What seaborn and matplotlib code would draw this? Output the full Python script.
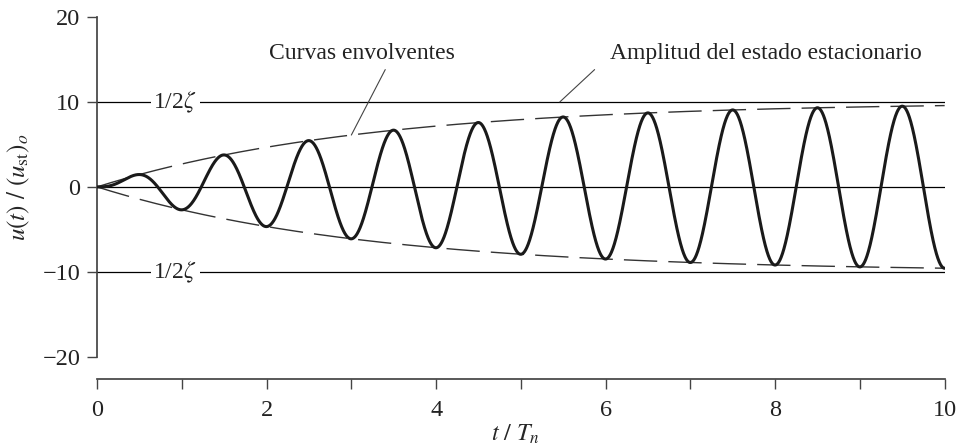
import numpy as np
import pandas as pd
import matplotlib
matplotlib.use("Agg")
import matplotlib.pyplot as plt
import seaborn as sns

# ---- values ----
zeta = 0.05                       # damping ratio (1/2zeta = 10)
t_max = 10                        # t / Tn range
x_ticks = [0, 1, 2, 3, 4, 5, 6, 7, 8, 9, 10]
x_tick_labels = ["0", "", "2", "", "4", "", "6", "", "8", "", "10"]
y_ticks = [-20, -10, 0, 10, 20]
y_tick_labels = ["\u221220", "\u221210", "0", "10", "20"]
ref_levels = [10, 0, -10]
label_half = "1/2$\\zeta$"
txt_env = "Curvas envolventes"
txt_amp = "Amplitud del estado estacionario"

# ---- resonant response (sinusoidal force at w = wn) ----
t = np.linspace(0, t_max, 3001)
wn = 2 * np.pi
wd = wn * np.sqrt(1 - zeta ** 2)
decay = np.exp(-zeta * wn * t)
u = (1 / (2 * zeta)) * (decay * (np.cos(wd * t) + zeta / np.sqrt(1 - zeta ** 2) * np.sin(wd * t)) - np.cos(wn * t))
env = (1 / (2 * zeta)) * (1 - decay)
df = pd.DataFrame({"t": t, "u": u, "env_up": env, "env_dn": -env})

sns.set_theme(style="ticks")
plt.rcParams["font.family"] = ["Liberation Serif", "DejaVu Serif"]
plt.rcParams["mathtext.fontset"] = "stix"

fig = plt.figure(figsize=(9.61, 4.45), dpi=100)
ax = fig.add_axes([0.101, 0.198, 0.882, 0.764])

for lv in ref_levels:
    ax.axhline(lv, color="black", lw=0.9, zorder=1)

sns.lineplot(data=df, x="t", y="env_up", ax=ax, color="#333333", lw=1.0,
             estimator=None, zorder=2)
sns.lineplot(data=df, x="t", y="env_dn", ax=ax, color="#333333", lw=1.0,
             estimator=None, zorder=2)
for ln in ax.lines[-2:]:
    ln.set_dashes([24, 8])
sns.lineplot(data=df, x="t", y="u", ax=ax, color="#1a1a1a", lw=2.2,
             estimator=None, zorder=3)

ax.set_xlim(0, t_max)
ax.set_ylim(-20, 20)
ax.set_xticks(x_ticks)
ax.set_xticklabels(x_tick_labels)
ax.set_yticks(y_ticks)
ax.set_yticklabels(y_tick_labels)
ax.tick_params(axis="both", labelsize=17.5, length=7, width=1.0, color="#444444",
               labelcolor="#222222", direction="out")
ax.tick_params(axis="x", pad=8)
ax.tick_params(axis="y", pad=5)

for side in ["top", "right"]:
    ax.spines[side].set_visible(False)
ax.spines["left"].set_color("#444444")
ax.spines["bottom"].set_color("#444444")
ax.spines["bottom"].set_position(("outward", 16))

ax.set_xlabel(r"$t\ /\ T_n$", fontsize=17.5)
ax.xaxis.set_label_coords(0.493, -0.195)
ax.set_ylabel(r"$u(t)\ /\ (u_{\mathrm{st}})_o$", fontsize=18)
ax.yaxis.set_label_coords(-0.077, 0.5)

for lv in [10, -10]:
    ax.text(0.92, lv, label_half, fontsize=17, ha="center", va="center",
            color="#222222", zorder=4,
            bbox=dict(facecolor="white", edgecolor="none", pad=2))

ax.text(3.12, 15.7, txt_env, fontsize=17, ha="center", va="center", color="#222222")
ax.annotate("", xy=(3.0, 6.1), xytext=(3.40, 13.8),
            arrowprops=dict(arrowstyle="-", color="#444444", lw=0.8,
                            shrinkA=0, shrinkB=0))
ax.text(6.05, 15.7, txt_amp, fontsize=17, ha="left", va="center", color="#222222")
ax.annotate("", xy=(5.46, 10.0), xytext=(5.87, 13.8),
            arrowprops=dict(arrowstyle="-", color="#444444", lw=0.8,
                            shrinkA=0, shrinkB=0))

fig.savefig("out.png", dpi=100)
